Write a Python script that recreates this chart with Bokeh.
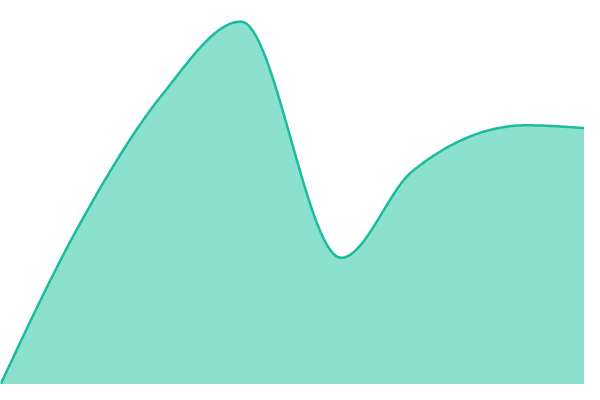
import numpy as np
from bokeh.plotting import figure
from bokeh.embed import file_html
from bokeh.resources import INLINE

# Values (x position, value)
x_vals = [0, 83, 167, 247, 350, 423, 540, 600]
y_vals = [0, 170, 303, 378, 132, 222, 270, 267]


def monotone_curve(xs, ys, n=40):
    """Render helper: monotone cubic (d3 monotoneX style) path through the given points."""
    xs = np.asarray(xs, float)
    ys = np.asarray(ys, float)
    h = np.diff(xs)
    d = np.diff(ys) / h
    m = np.zeros_like(ys)
    for i in range(1, len(xs) - 1):
        s0, s1 = d[i - 1], d[i]
        p = (s0 * h[i] + s1 * h[i - 1]) / (h[i - 1] + h[i])
        m[i] = (np.sign(s0) + np.sign(s1)) * min(abs(s0), abs(s1), 0.5 * abs(p))
    m[0] = (3 * d[0] - m[1]) / 2
    m[-1] = (3 * d[-1] - m[-2]) / 2
    px, py = [], []
    for i in range(len(xs) - 1):
        t = np.linspace(0, 1, n, endpoint=False)
        h00 = 2 * t**3 - 3 * t**2 + 1
        h10 = t**3 - 2 * t**2 + t
        h01 = -2 * t**3 + 3 * t**2
        h11 = t**3 - t**2
        px.extend(xs[i] + t * h[i])
        py.extend(h00 * ys[i] + h10 * h[i] * m[i] + h01 * ys[i + 1] + h11 * h[i] * m[i + 1])
    px.append(xs[-1])
    py.append(ys[-1])
    return np.array(px), np.array(py)


cx, cy = monotone_curve(x_vals, y_vals)

p = figure(width=584, height=384, x_range=(0, 600), y_range=(0, 400),
           output_backend="svg", toolbar_location=None,
           min_border=0, min_border_left=0, min_border_right=0,
           min_border_top=0, min_border_bottom=0)
p.axis.visible = False
p.grid.visible = False
p.outline_line_color = None
p.background_fill_color = "white"
p.border_fill_color = "white"

p.varea(x=cx, y1=np.zeros_like(cy), y2=cy, fill_color="#8be0cf", fill_alpha=1.0)
p.line(cx, cy, line_color="#1abc9c", line_width=2.5)

open("out.html", "w").write(file_html(p, INLINE))
